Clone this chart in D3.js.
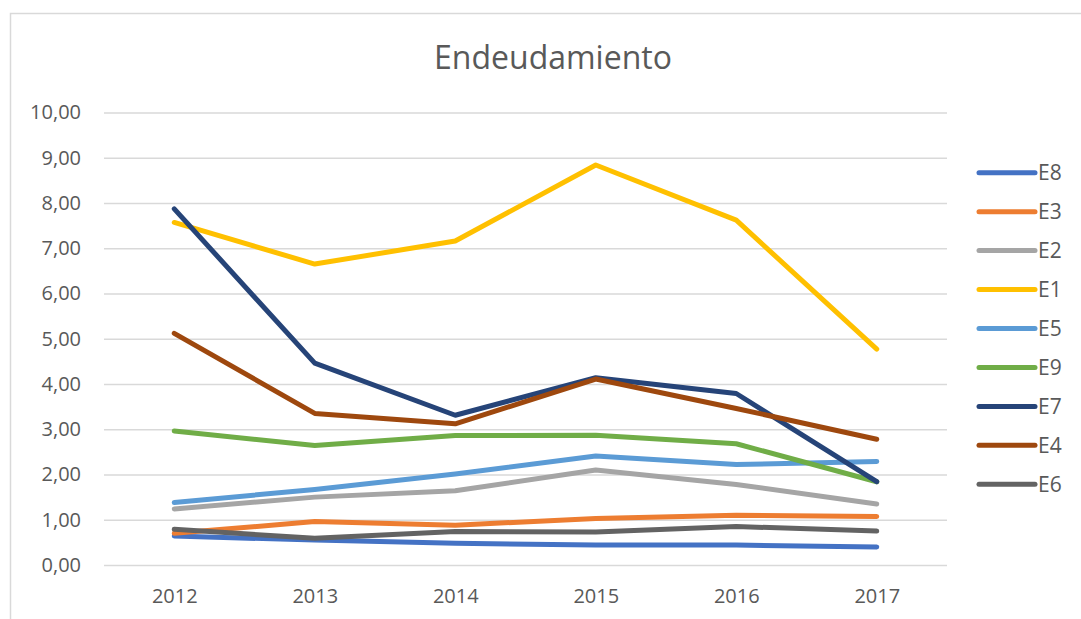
<!DOCTYPE html>
<html>
<head>
<meta charset="utf-8">
<title>Endeudamiento</title>
<script src="https://d3js.org/d3.v7.min.js"></script>
<style>
    body { margin: 0; background: #fff; }
    svg text { font-family: "Open Sans", sans-serif; fill: #595959; }
</style>
</head>
<body>
<svg id="chart"></svg>
<script>
    // datos
    var years = ["2012", "2013", "2014", "2015", "2016", "2017"];
    var seriesNames = ["E8", "E3", "E2", "E1", "E5", "E9", "E7", "E4", "E6"];
    var E8 = [0.64, 0.55, 0.48, 0.44, 0.44, 0.40];
    var E3 = [0.70, 0.96, 0.88, 1.03, 1.10, 1.07];
    var E2 = [1.24, 1.50, 1.64, 2.10, 1.78, 1.35];
    var E1 = [7.57, 6.65, 7.16, 8.84, 7.62, 4.77];
    var E5 = [1.38, 1.67, 2.01, 2.41, 2.22, 2.29];
    var E9 = [2.96, 2.64, 2.86, 2.87, 2.68, 1.84];
    var E7 = [7.87, 4.46, 3.31, 4.14, 3.79, 1.84];
    var E4 = [5.12, 3.35, 3.12, 4.11, 3.46, 2.78];
    var E6 = [0.79, 0.59, 0.74, 0.73, 0.85, 0.75];
    var yTicks = [0, 1, 2, 3, 4, 5, 6, 7, 8, 9, 10];
    var colors = ["#4472C4", "#ED7D31", "#A5A5A5", "#FFC000", "#5B9BD5", "#70AD47", "#264478", "#9E480E", "#636363"];

    var values = { E8: E8, E3: E3, E2: E2, E1: E1, E5: E5, E9: E9, E7: E7, E4: E4, E6: E6 };
    var series = seriesNames.map(function (n, i) { return { name: n, values: values[n], color: colors[i] }; });

    var width = 1081, height = 619;
    var svg = d3.select("#chart").attr("width", width).attr("height", height);

    // marco del gráfico
    svg.append("rect")
        .attr("x", 10.5).attr("y", 13.5)
        .attr("width", 1100).attr("height", 700)
        .attr("fill", "none").attr("stroke", "#d9d9d9").attr("stroke-width", 1.5);

    var x = d3.scalePoint().domain(years).range([104, 947]).padding(0.5);
    var y = d3.scaleLinear().domain([0, 10]).range([565, 112.5]);

    // título
    svg.append("text")
        .attr("x", 553).attr("y", 69)
        .attr("text-anchor", "middle")
        .style("font-size", "32px")
        .text("Endeudamiento");

    // eje y con líneas de cuadrícula
    var yAxis = d3.axisLeft(y)
        .tickValues(yTicks)
        .tickSize(-(947 - 104))
        .tickPadding(23)
        .tickFormat(function (d) { return d3.format(".2f")(d).replace(".", ","); });

    var gy = svg.append("g").attr("transform", "translate(104,0)").call(yAxis);
    gy.select(".domain").remove();
    gy.selectAll(".tick line").attr("stroke", "#d9d9d9").attr("stroke-width", 1.5);
    gy.selectAll(".tick text").style("font-size", "20px").attr("fill", "#595959");

    // eje x
    var xAxis = d3.axisBottom(x).tickSize(0).tickPadding(24);
    var gx = svg.append("g").attr("transform", "translate(0,565)").call(xAxis);
    gx.select(".domain").remove();
    gx.selectAll(".tick text").style("font-size", "20px").attr("fill", "#595959");

    // líneas
    var line = d3.line()
        .x(function (d, i) { return x(years[i]); })
        .y(function (d) { return y(d); });

    svg.append("g").selectAll("path")
        .data(series)
        .enter().append("path")
        .attr("d", function (d) { return line(d.values); })
        .attr("fill", "none")
        .attr("stroke", function (d) { return d.color; })
        .attr("stroke-width", 5)
        .attr("stroke-linecap", "round")
        .attr("stroke-linejoin", "round");

    // leyenda
    var legend = svg.append("g").selectAll("g")
        .data(series)
        .enter().append("g")
        .attr("transform", function (d, i) { return "translate(979," + (172.7 + i * 38.95) + ")"; });

    legend.append("line")
        .attr("x1", 0).attr("x2", 56)
        .attr("stroke", function (d) { return d.color; })
        .attr("stroke-width", 5)
        .attr("stroke-linecap", "round");

    legend.append("text")
        .attr("x", 59).attr("dy", "0.35em")
        .style("font-size", "21px")
        .text(function (d) { return d.name; });
</script>
</body>
</html>
